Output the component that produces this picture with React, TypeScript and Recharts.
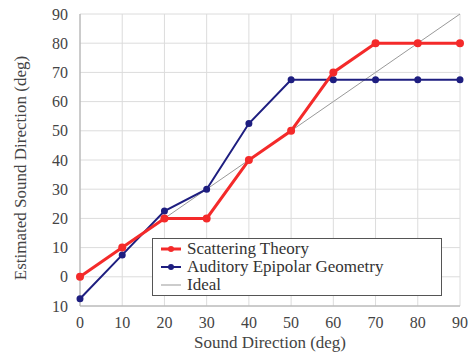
import { LineChart, Line, XAxis, YAxis, CartesianGrid } from 'recharts';

const directions = [0, 10, 20, 30, 40, 50, 60, 70, 80, 90];
const scattering = [0, 10, 20, 20, 40, 50, 70, 80, 80, 80];
const epipolar = [-7.5, 7.5, 22.5, 30, 52.5, 67.5, 67.5, 67.5, 67.5, 67.5];
const ideal = [0, 10, 20, 30, 40, 50, 60, 70, 80, 90];
const yTicks = [-10, 0, 10, 20, 30, 40, 50, 60, 70, 80, 90];

const data = directions.map((d, i) => ({
  dir: d,
  scattering: scattering[i],
  epipolar: epipolar[i],
  ideal: ideal[i]
}));

const font = "'Liberation Serif', 'Times New Roman', Tinos, 'DejaVu Serif', 'Noto Serif', serif";

const legendItems = [
  { name: 'Scattering Theory', color: '#f42a2a', width: 3, dot: true },
  { name: 'Auditory Epipolar Geometry', color: '#1e1e80', width: 2, dot: true },
  { name: 'Ideal', color: '#999999', width: 1, dot: false }
];

// rotated y title, centred a bit lower than the plot like the original
const YTitle = () => (
  <text
    x={0}
    y={0}
    transform="translate(26,168) rotate(-90)"
    textAnchor="middle"
    fontFamily={font}
    fontSize={17}
    fill="#444"
  >
    Estimated Sound Direction (deg)
  </text>
);

export default function App() {
  return (
    <div style={{ position: 'absolute', left: 0, top: 0, width: 472, height: 355, background: '#fff' }}>
      <LineChart width={472} height={355} data={data} margin={{ top: 14, right: 12, bottom: 0, left: 0 }}>
        <CartesianGrid stroke="#dcdcdc" />
        <XAxis
          dataKey="dir"
          type="number"
          domain={[0, 90]}
          ticks={directions}
          height={49}
          tickLine={false}
          axisLine={{ stroke: '#aaa' }}
          tick={{ fontFamily: font, fontSize: 16, fill: '#444' }}
          tickMargin={5}
          label={{ value: 'Sound Direction (deg)', position: 'insideBottom', offset: 7, fontFamily: font, fontSize: 17, fill: '#444' }}
        />
        <YAxis
          type="number"
          domain={[-10, 90]}
          ticks={yTicks}
          width={80}
          tickLine={false}
          axisLine={{ stroke: '#aaa' }}
          tick={{ fontFamily: font, fontSize: 16, fill: '#444' }}
          tickMargin={6}
          tickFormatter={(v: number) => (v < 0 ? String(-v) : String(v))}
          label={{ content: () => <YTitle /> }}
        />
        <Line dataKey="ideal" stroke="#999" strokeWidth={1} dot={false} isAnimationActive={false} />
        <Line
          dataKey="epipolar"
          stroke="#1e1e80"
          strokeWidth={2}
          dot={{ r: 2.5, fill: '#1e1e80', stroke: '#1e1e80' }}
          isAnimationActive={false}
        />
        <Line
          dataKey="scattering"
          stroke="#f42a2a"
          strokeWidth={3}
          dot={{ r: 2.5, fill: '#f42a2a', stroke: '#f42a2a' }}
          isAnimationActive={false}
        />
      </LineChart>
      <div
        style={{
          position: 'absolute',
          left: 152,
          top: 238,
          width: 276,
          border: '1px solid #555',
          background: '#fff',
          padding: '1px 6px',
          fontFamily: font,
          fontSize: 17,
          color: '#333',
          lineHeight: '18px'
        }}
      >
        {legendItems.map((it) => (
          <div key={it.name} style={{ display: 'flex', alignItems: 'center' }}>
            <svg width={24} height={12} style={{ marginRight: 4 }}>
              <line x1={2} y1={6} x2={22} y2={6} stroke={it.color} strokeWidth={it.width} />
              {it.dot && <circle cx={12} cy={6} r={3} fill={it.color} />}
            </svg>
            <span>{it.name}</span>
          </div>
        ))}
      </div>
    </div>
  );
}
